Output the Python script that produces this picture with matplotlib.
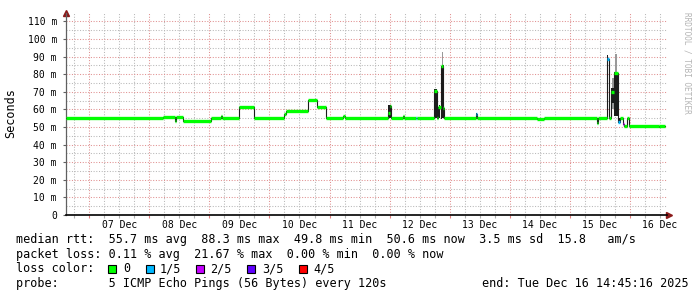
"""SmokePing style latency graph (10 days)."""

import matplotlib
matplotlib.use("Agg")
import matplotlib.pyplot as plt
from matplotlib.patches import Rectangle
from matplotlib.ticker import MultipleLocator, FixedLocator, FuncFormatter

# time axis in "day of December" (fractional), end = Dec 16 14:45:16
t_start = 6.615
t_end = 16.615
day_labels = ["07 Dec", "08 Dec", "09 Dec", "10 Dec", "11 Dec",
              "12 Dec", "13 Dec", "14 Dec", "15 Dec", "16 Dec"]
day_ticks = [7, 8, 9, 10, 11, 12, 13, 14, 15, 16]

# median rtt (ms), piecewise constant from seg_t[i] to seg_t[i+1]
seg_t = [6.615, 8.227, 8.428, 8.438, 8.560, 9.032, 9.19, 9.21, 9.498, 9.748,
         10.245, 10.28, 10.643, 10.798, 10.948, 11.23, 11.26, 11.977, 11.998, 12.02,
         12.23, 12.245, 12.44, 12.455, 12.737, 12.782, 12.81, 12.848, 12.86, 12.89,
         12.905, 13.44, 13.46, 14.45, 14.565, 15.455, 15.47, 15.612, 15.645, 15.688,
         15.733, 15.80, 15.83, 15.88, 15.895, 15.945, 15.99, 16.475, 16.49, 16.58]
seg_rtt = [55.3, 55.6, 53.4, 55.6, 53.4, 55.3, 56.0, 55.3, 61.4, 55.3,
           57.3, 59.0, 65.2, 61.3, 55.3, 56.0, 55.3, 58.0, 61.8, 55.3,
           56.2, 55.3, 55.3, 55.3, 70.6, 55.3, 61.5, 55.3, 84.6, 61.0,
           55.3, 57.3, 55.3, 54.6, 55.3, 52.3, 55.3, 88.5, 55.3, 70.0,
           80.5, 53.0, 55.3, 52.0, 50.8, 55.3, 50.8, 50.1, 50.8]
seg_loss = [0, 0, 0, 0, 0, 0, 0, 0, 0, 0,
            0, 0, 0, 0, 0, 0, 0, 0, 0, 0,
            0, 0, 1, 0, 0, 0, 0, 0, 0, 0,
            0, 1, 0, 0, 0, 0, 0, 1, 0, 0,
            0, 1, 0, 2, 0, 0, 0, 0, 0]

# smoke (ping spread): start, end, low, high (ms)
smoke_dark = [
    (8.225, 8.232, 53.3, 55.6),
    (8.426, 8.432, 53.0, 55.6),
    (11.980, 12.015, 55.0, 62.6),
    (12.737, 12.780, 55.0, 71.4),
    (12.815, 12.840, 55.0, 62.5),
    (12.865, 12.900, 55.0, 85.2),
    (13.44, 13.46, 55.0, 57.8),
    (15.452, 15.47, 52.0, 55.3),
    (15.612, 15.640, 55.0, 90.9),
    (15.690, 15.730, 63.5, 72.0),
    (15.735, 15.795, 56.0, 81.5),
    (15.80, 15.83, 52.5, 55.3),
]
smoke_light = [
    (12.83, 12.838, 62.5, 67.2),
    (12.875, 12.89, 85.2, 92.8),
    (14.667, 14.672, 55.5, 58.0),
    (14.91, 14.916, 55.5, 57.0),
    (15.70, 15.733, 60.0, 78.0),
    (15.745, 15.79, 81.5, 91.5),
    (16.10, 16.105, 51.0, 54.0),
]

loss_colors = ["#00ff00", "#00b8ff", "#c400ff", "#6000ff", "#ff0000"]
loss_names = ["0", "1/5", "2/5", "3/5", "4/5"]

W, H = 697, 297
MONO = "DejaVu Sans Mono"
plt.rcParams["font.family"] = MONO

fig = plt.figure(figsize=(W / 100, H / 100), dpi=100)
fig.patch.set_facecolor("white")
ax = fig.add_axes([66 / W, 82 / H, 601 / W, 202 / H])

ax.set_xlim(t_start, t_end)
ax.set_ylim(0, 114.8)

# grid
ax.xaxis.set_major_locator(FixedLocator(day_ticks))
ax.xaxis.set_minor_locator(MultipleLocator(0.25))
ax.yaxis.set_major_locator(MultipleLocator(10))
ax.yaxis.set_minor_locator(MultipleLocator(5))
ax.set_axisbelow(True)
ax.grid(which="minor", color="#b8b8b8", ls=(0, (1, 1.6)), lw=0.75)
ax.grid(which="major", color="#e09090", ls=(0, (1, 1.6)), lw=0.75)

ax.yaxis.set_major_formatter(FuncFormatter(lambda v, p: "0" if v == 0 else f"{v:.0f} m"))
ax.xaxis.set_major_formatter(FuncFormatter(lambda v, p: ""))
ax.tick_params(axis="y", which="major", length=2, width=0.8, pad=4.5,
               labelsize=7, color="#606060")
ax.tick_params(axis="y", which="minor", length=0)
ax.tick_params(axis="x", which="major", length=2, width=0.8, color="#e08080")
ax.tick_params(axis="x", which="minor", length=2, width=0.8, color="#b0b0b0")

for lbl, d in zip(day_labels, day_ticks):
    ax.annotate(lbl, (d + 0.5, 0), xycoords=ax.get_xaxis_transform(),
                xytext=(0, -7.4), textcoords="offset points",
                ha="center", va="center", fontsize=7)

for s in ("top", "right"):
    ax.spines[s].set_visible(False)
ax.spines["left"].set_color("#606060")
ax.spines["left"].set_linewidth(0.9)
ax.spines["bottom"].set_color("black")
ax.spines["bottom"].set_linewidth(1.2)

# axis arrows
ax.plot([0], [1.0], marker="^", ms=4, color="#8b1a1a", transform=ax.transAxes,
        clip_on=False)
ax.plot([1.004], [0], marker=">", ms=4, color="#8b1a1a", transform=ax.transAxes,
        clip_on=False)

# smoke
for t0, t1, lo, hi in smoke_light:
    ax.bar(t0, hi - lo, width=t1 - t0, bottom=lo, align="edge",
           color="#999999", linewidth=0, zorder=2)
for t0, t1, lo, hi in smoke_dark:
    ax.bar(t0, hi - lo, width=t1 - t0, bottom=lo, align="edge",
           color="#1c1c1c", linewidth=0, zorder=3)

# median: thin black transitions + thick loss-coloured segments
ax.step(seg_t, seg_rtt + [seg_rtt[-1]], where="post", color="#1c1c1c",
        lw=0.8, zorder=4)
ax.hlines(seg_rtt, seg_t[:-1], seg_t[1:],
          colors=[loss_colors[k] for k in seg_loss], lw=2.4, zorder=5)

# labels
fig.text(10.7 / W, 1 - 113.5 / H, "Seconds", rotation=90, ha="center",
         va="center", fontsize=8.5)
fig.text(687 / W, 1 - 12 / H, "RRDTOOL / TOBI OETIKER", rotation=270,
         ha="center", va="top", fontsize=5.6, color="#b4b4b4")

fs = 8.5
fig.text(16 / W, 1 - 240 / H,
         "median rtt:  55.7 ms avg  88.3 ms max  49.8 ms min  50.6 ms now  3.5 ms sd  15.8   am/s",
         fontsize=fs, va="center")
fig.text(16 / W, 1 - 254.5 / H,
         "packet loss: 0.11 % avg  21.67 % max  0.00 % min  0.00 % now",
         fontsize=fs, va="center")
fig.text(16 / W, 1 - 269 / H, "loss color:", fontsize=fs, va="center")
box_x = [108, 146, 196, 247, 299]
name_x = [123, 160, 210, 262, 313]
for c, name, bx, nx in zip(loss_colors, loss_names, box_x, name_x):
    fig.patches.append(Rectangle((bx / W, 1 - 273 / H), 7.5 / W, 8 / H,
                                 transform=fig.transFigure, facecolor=c,
                                 edgecolor="black", lw=0.8))
    fig.text(nx / W, 1 - 269 / H, name, fontsize=fs, va="center")
fig.text(16 / W, 1 - 283.5 / H,
         "probe:       5 ICMP Echo Pings (56 Bytes) every 120s",
         fontsize=fs, va="center")
fig.text(689 / W, 1 - 283.5 / H, "end: Tue Dec 16 14:45:16 2025",
         fontsize=fs, va="center", ha="right")

fig.savefig("out.png", dpi=100)
plt.close(fig)
